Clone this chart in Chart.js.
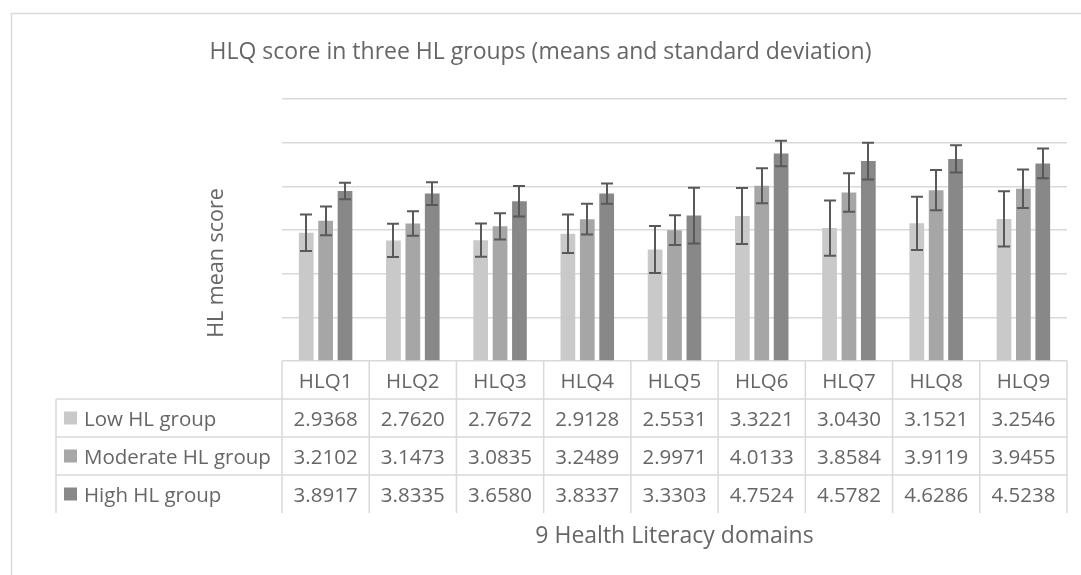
<!DOCTYPE html>
<html>
<head>
<meta charset="utf-8">
<title>HLQ score in three HL groups</title>
<script src="https://cdn.jsdelivr.net/npm/chart.js@4.4.1/dist/chart.umd.min.js"></script>
<style>
    html, body { margin: 0; padding: 0; background: #ffffff; }
    #wrap { width: 1081px; height: 575px; position: relative; }
</style>
</head>
<body>
<div id="wrap"><canvas id="hlqChart"></canvas></div>
<script>
// Data
const domains = ['HLQ1', 'HLQ2', 'HLQ3', 'HLQ4', 'HLQ5', 'HLQ6', 'HLQ7', 'HLQ8', 'HLQ9'];
const groupNames = ['Low HL group', 'Moderate HL group', 'High HL group'];

const lowMeans = [2.9368, 2.7620, 2.7672, 2.9128, 2.5531, 3.3221, 3.0430, 3.1521, 3.2546];
const moderateMeans = [3.2102, 3.1473, 3.0835, 3.2489, 2.9971, 4.0133, 3.8584, 3.9119, 3.9455];
const highMeans = [3.8917, 3.8335, 3.6580, 3.8337, 3.3303, 4.7524, 4.5782, 4.6286, 4.5238];

// standard deviations (estimated from error bar lengths)
const lowSd = [0.42, 0.38, 0.38, 0.44, 0.54, 0.64, 0.63, 0.61, 0.63];
const moderateSd = [0.33, 0.28, 0.30, 0.35, 0.34, 0.40, 0.44, 0.46, 0.44];
const highSd = [0.19, 0.26, 0.35, 0.23, 0.64, 0.29, 0.42, 0.31, 0.34];

const yTicks = [0, 1, 2, 3, 4, 5, 6];

const titleText = 'HLQ score in three HL groups (means and standard deviation)';
const yTitleText = 'HL mean score';
const xTitleText = '9 Health Literacy domains';

const colors = ['#c9c9c9', '#a6a6a6', '#888888'];
const textColor = '#666666';
const lineColor = '#d9d9d9';
const fontFamily = "'Open Sans', sans-serif";

const allMeans = [lowMeans, moderateMeans, highMeans];
const allSd = [lowSd, moderateSd, highSd];

// error bars on top of each bar
const errorBars = {
    id: 'errorBars',
    afterDatasetsDraw(chart) {
        const ctx = chart.ctx;
        const y = chart.scales.y;
        ctx.save();
        ctx.strokeStyle = '#595959';
        ctx.lineWidth = 2;
        chart.data.datasets.forEach((ds, di) => {
            const meta = chart.getDatasetMeta(di);
            meta.data.forEach((bar, i) => {
                const m = ds.data[i];
                const sd = allSd[di][i];
                const top = y.getPixelForValue(m + sd);
                const bottom = y.getPixelForValue(m - sd);
                const x = Math.round(bar.x);
                ctx.beginPath();
                ctx.moveTo(x, top);
                ctx.lineTo(x, bottom);
                ctx.moveTo(x - 6, top);
                ctx.lineTo(x + 6, top);
                ctx.moveTo(x - 6, bottom);
                ctx.lineTo(x + 6, bottom);
                ctx.stroke();
            });
        });
        ctx.restore();
    }
};

// title, axis titles, outer frame and the data table
const decorations = {
    id: 'decorations',
    afterDraw(chart) {
        const ctx = chart.ctx;
        const area = chart.chartArea;
        const xs = chart.scales.x;
        const catW = xs.width / domains.length;
        const rowH = 38;
        const tableLeft = 56;
        const base = area.bottom;

        ctx.save();

        // frame (only left and top edges are visible)
        ctx.strokeStyle = lineColor;
        ctx.lineWidth = 1.5;
        ctx.beginPath();
        ctx.moveTo(11.5, 575);
        ctx.lineTo(11.5, 13.5);
        ctx.lineTo(1081, 13.5);
        ctx.stroke();

        // chart title
        ctx.fillStyle = textColor;
        ctx.font = '23px ' + fontFamily;
        ctx.textAlign = 'center';
        ctx.textBaseline = 'alphabetic';
        ctx.fillText(titleText, 540.5, 59);

        // y axis title
        ctx.save();
        ctx.translate(223, 263);
        ctx.rotate(-Math.PI / 2);
        ctx.font = '21.5px ' + fontFamily;
        ctx.fillText(yTitleText, 0, 0);
        ctx.restore();

        // table grid
        ctx.strokeStyle = lineColor;
        ctx.lineWidth = 1.5;
        ctx.beginPath();
        for (let r = 1; r <= groupNames.length; r++) {
            ctx.moveTo(tableLeft, base + r * rowH);
            ctx.lineTo(area.right, base + r * rowH);
        }
        ctx.moveTo(tableLeft, base + rowH);
        ctx.lineTo(tableLeft, base + rowH * (groupNames.length + 1));
        for (let c = 0; c <= domains.length; c++) {
            const x = area.left + c * catW;
            ctx.moveTo(x, base);
            ctx.lineTo(x, base + rowH * (groupNames.length + 1));
        }
        ctx.stroke();

        // header row
        ctx.fillStyle = textColor;
        ctx.font = '20.5px ' + fontFamily;
        ctx.textAlign = 'center';
        domains.forEach((d, i) => {
            ctx.fillText(d, xs.getPixelForValue(i), base + 26.5);
        });

        // group rows
        groupNames.forEach((g, r) => {
            const yb = base + (r + 1) * rowH + 26.5;
            ctx.fillStyle = colors[r];
            ctx.fillRect(64, yb - 14, 13, 13);
            ctx.fillStyle = textColor;
            ctx.textAlign = 'left';
            ctx.fillText(g, 84, yb);
            ctx.textAlign = 'center';
            allMeans[r].forEach((v, i) => {
                ctx.fillText(v.toFixed(4), xs.getPixelForValue(i), yb);
            });
        });

        // x axis title
        ctx.font = '23px ' + fontFamily;
        ctx.fillText(xTitleText, (area.left + area.right) / 2, 543);

        ctx.restore();
    }
};

const ctx = document.getElementById('hlqChart');

new Chart(ctx, {
    type: 'bar',
    data: {
        labels: domains,
        datasets: groupNames.map((name, i) => ({
            label: name,
            data: allMeans[i],
            backgroundColor: colors[i],
            borderWidth: 0,
            categoryPercentage: 0.667,
            barPercentage: 0.76
        }))
    },
    options: {
        responsive: true,
        maintainAspectRatio: false,
        animation: false,
        layout: {
            padding: { left: 282, right: 14, top: 99, bottom: 214 }
        },
        plugins: {
            legend: { display: false },
            title: { display: false },
            tooltip: { enabled: false }
        },
        scales: {
            x: {
                display: false
            },
            y: {
                min: yTicks[0],
                max: yTicks[yTicks.length - 1],
                afterBuildTicks: (scale) => {
                    scale.ticks = yTicks.map(v => ({ value: v }));
                },
                afterFit: (scale) => {
                    scale.width = 0;
                },
                ticks: { display: false },
                border: { display: false },
                grid: {
                    color: lineColor,
                    lineWidth: 1.5,
                    drawTicks: false
                }
            }
        }
    },
    plugins: [errorBars, decorations]
});
</script>
</body>
</html>
